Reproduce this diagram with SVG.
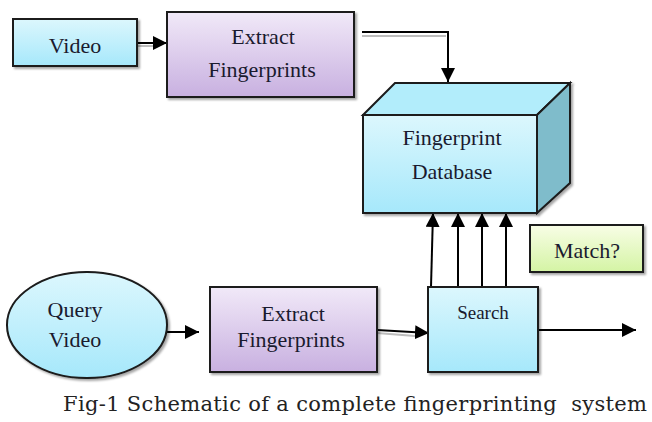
<svg xmlns="http://www.w3.org/2000/svg" width="652" height="422" viewBox="0 0 652 422">
  <style>
    .box { stroke: #1a1a1a; stroke-width: 2; }
    .lbl { font-family: "Liberation Serif", "Times New Roman", serif; font-size: 22px; fill: #1a1a2e; text-anchor: middle; }
    .wire { fill: none; stroke: #000; stroke-width: 2; }
    .wire-sh { fill: none; stroke: #bdbdbd; stroke-width: 2; }
    .cap { font-family: "DejaVu Serif", "Liberation Serif", serif; font-size: 21px; fill: #222; }
  </style>
  <defs>
    <linearGradient id="gCyan" x1="0" y1="0" x2="0" y2="1">
      <stop offset="0" stop-color="#dcf7fd"/>
      <stop offset="1" stop-color="#a6e8fb"/>
    </linearGradient>
    <linearGradient id="gLav" x1="0" y1="0" x2="0" y2="1">
      <stop offset="0" stop-color="#f1e9f8"/>
      <stop offset="1" stop-color="#c8b0e0"/>
    </linearGradient>
    <linearGradient id="gLime" x1="0" y1="0" x2="0" y2="1">
      <stop offset="0" stop-color="#f8fde6"/>
      <stop offset="1" stop-color="#d4f4a4"/>
    </linearGradient>
    <filter id="shadow" x="-10%" y="-10%" width="130%" height="130%">
      <feDropShadow dx="2" dy="2" stdDeviation="1.2" flood-color="#000" flood-opacity="0.35"/>
    </filter>
    <marker id="arrow" viewBox="0 0 10 10" refX="10" refY="5" markerWidth="14" markerHeight="14" markerUnits="userSpaceOnUse" orient="auto">
      <path d="M0,0 L10,5 L0,10 z" fill="#000"/>
    </marker>
  </defs>

  <!-- connectors -->
  <g id="connectors">
    <!-- soft under-strokes -->
    <line class="wire-sh" x1="137" y1="46" x2="156" y2="46"/>
    <polyline class="wire-sh" points="362,36 446,36"/>
    <line class="wire-sh" x1="377" y1="333" x2="415" y2="336"/>
    <!-- main strokes -->
    <line class="wire" x1="137" y1="43" x2="167" y2="43" marker-end="url(#arrow)"/>
    <polyline class="wire" points="362,32 448,32 448,82" marker-end="url(#arrow)"/>
    <line class="wire" x1="167" y1="332" x2="199" y2="332" marker-end="url(#arrow)"/>
    <line class="wire" x1="377" y1="330" x2="429" y2="333" marker-end="url(#arrow)"/>
    <line class="wire" x1="431" y1="287" x2="433" y2="213" marker-end="url(#arrow)"/>
    <line class="wire" x1="458" y1="287" x2="458" y2="213" marker-end="url(#arrow)"/>
    <line class="wire" x1="482" y1="287" x2="482" y2="213" marker-end="url(#arrow)"/>
    <line class="wire" x1="506" y1="287" x2="506" y2="213" marker-end="url(#arrow)"/>
    <line class="wire" x1="538" y1="330" x2="636" y2="330" marker-end="url(#arrow)"/>
  </g>

  <g id="video">
    <rect class="box" x="13" y="19" width="124" height="47" fill="url(#gCyan)" filter="url(#shadow)"/>
    <text class="lbl" x="75" y="53">Video</text>
  </g>

  <g id="extract-top">
    <rect class="box" x="167" y="12" width="187" height="85" fill="url(#gLav)" filter="url(#shadow)"/>
    <text class="lbl" x="263" y="44">Extract</text>
    <text class="lbl" x="262" y="77">Fingerprints</text>
  </g>

  <g id="database">
    <g filter="url(#shadow)">
      <polygon class="box" points="363,115 395,83 570,83 537,115" fill="#b2edfb"/>
      <polygon class="box" points="537,115 570,83 570,183 537,213" fill="#7fbccb"/>
      <rect class="box" x="363" y="115" width="174" height="98" fill="url(#gCyan)"/>
    </g>
    <text class="lbl" x="452" y="145">Fingerprint</text>
    <text class="lbl" x="452" y="179">Database</text>
  </g>

  <g id="match">
    <rect class="box" x="530" y="225" width="113" height="47" fill="url(#gLime)" filter="url(#shadow)"/>
    <text class="lbl" x="587" y="258">Match?</text>
  </g>

  <g id="query-video">
    <ellipse class="box" cx="87" cy="325" rx="80" ry="53" fill="url(#gCyan)" filter="url(#shadow)"/>
    <text class="lbl" x="75" y="317">Query</text>
    <text class="lbl" x="75" y="347">Video</text>
  </g>

  <g id="extract-bottom">
    <rect class="box" x="210" y="287" width="167" height="85" fill="url(#gLav)" filter="url(#shadow)"/>
    <text class="lbl" x="293" y="321">Extract</text>
    <text class="lbl" x="291" y="347">Fingerprints</text>
  </g>

  <g id="search">
    <rect class="box" x="428" y="287" width="110" height="85" fill="url(#gCyan)" filter="url(#shadow)"/>
    <text class="lbl" x="483" y="319" style="font-size:19px">Search</text>
  </g>

  <text class="cap" x="63" y="411" textLength="584" lengthAdjust="spacing" xml:space="preserve">Fig-1 Schematic of a complete fingerprinting  system</text>
</svg>
